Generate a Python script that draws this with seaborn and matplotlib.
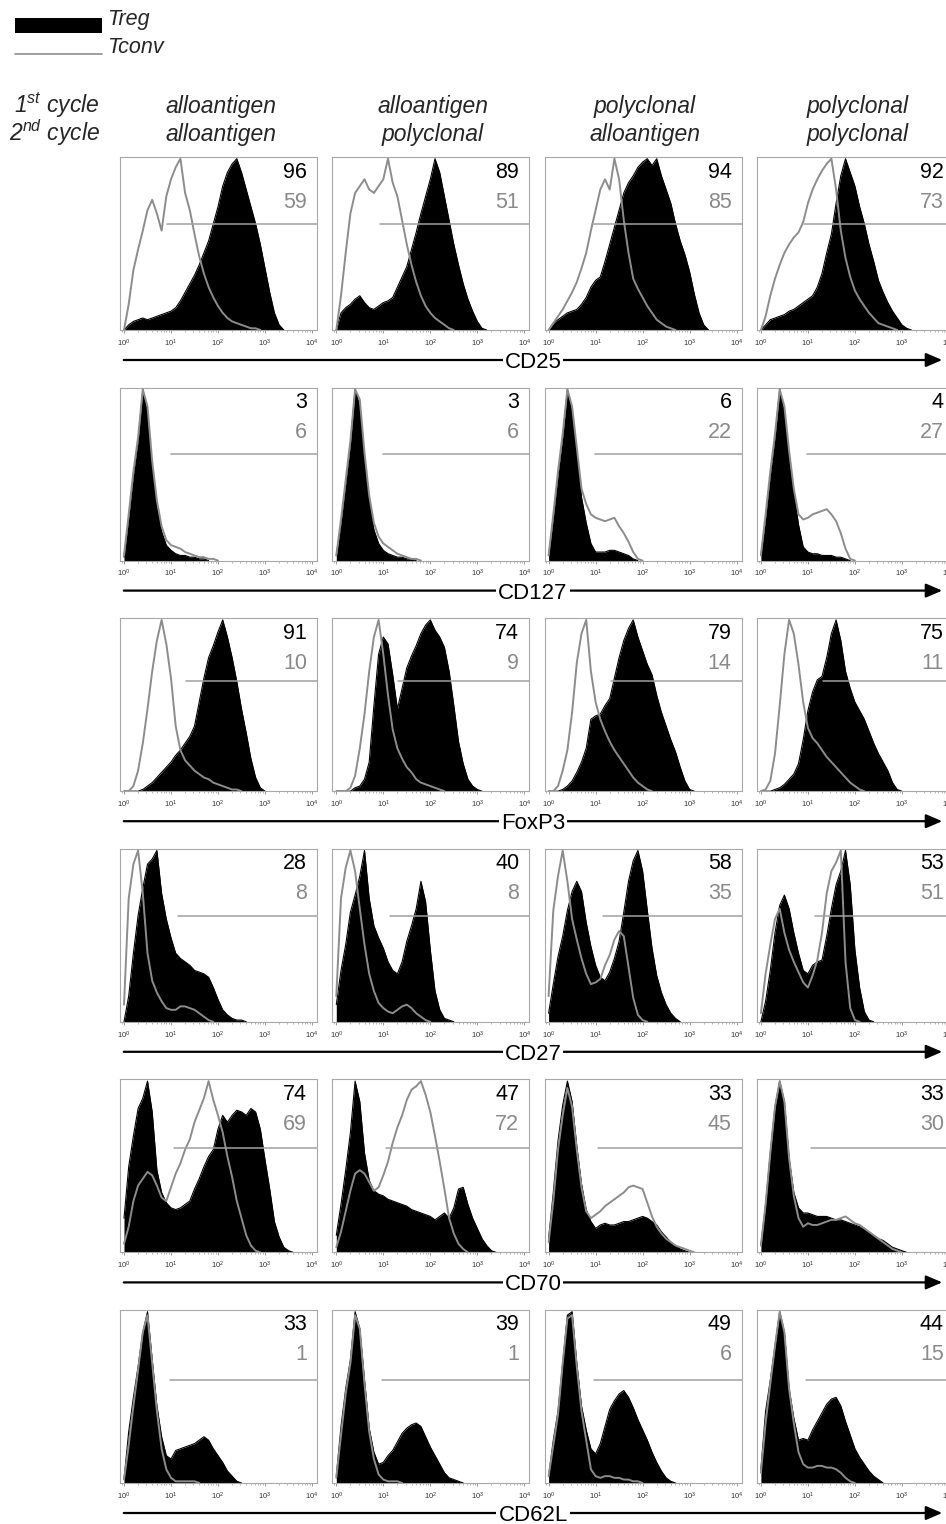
import numpy as np
import pandas as pd
import matplotlib
matplotlib.use("Agg")
import matplotlib.pyplot as plt
import seaborn as sns
from matplotlib.patches import FancyArrowPatch, Rectangle
from matplotlib.lines import Line2D
from matplotlib.ticker import LogLocator

# ---------------- data ----------------
LOG_BINS = [0.0, 0.1, 0.2, 0.3, 0.4, 0.5, 0.6, 0.7, 0.8, 0.9, 1.0, 1.1, 1.2,
            1.3, 1.4, 1.5, 1.6, 1.7, 1.8, 1.9, 2.0, 2.1, 2.2, 2.3, 2.4, 2.5,
            2.6, 2.7, 2.8, 2.9, 3.0, 3.1, 3.2, 3.3, 3.4, 3.5, 3.6]

MARKERS = ["CD25", "CD127", "FoxP3", "CD27", "CD70", "CD62L"]
CYCLE1 = ["alloantigen", "alloantigen", "polyclonal", "polyclonal"]
CYCLE2 = ["alloantigen", "polyclonal", "alloantigen", "polyclonal"]

TREG_PCT = [[96, 89, 94, 92], [3, 3, 6, 4], [91, 74, 79, 75],
            [28, 40, 58, 53], [74, 47, 33, 33], [33, 39, 49, 44]]
TCONV_PCT = [[59, 51, 85, 73], [6, 6, 22, 27], [10, 9, 14, 11],
             [8, 8, 35, 51], [69, 72, 45, 30], [1, 1, 6, 15]]

GATE_START_LOG = [0.92, 0.99, 1.32, 1.15, 1.06, 0.97]
GATE_LEVEL = [62, 62, 64.5, 62, 61, 60]

# histogram heights (% of max) per column, sampled at LOG_BINS
CD25_TREG = [
    [0, 3, 5, 6, 7, 6, 7, 8, 9, 10, 11, 13, 17, 22, 27, 32, 38, 45, 52, 62, 72, 84, 92, 97, 100, 92, 82, 72, 62, 50, 36, 22, 10, 3, 0],
    [0, 10, 13, 15, 18, 20, 16, 13, 12, 14, 16, 17, 19, 25, 31, 37, 47, 57, 68, 78, 88, 100, 92, 78, 64, 50, 38, 27, 18, 11, 5, 1, 0],
    [0, 4, 6, 8, 10, 11, 12, 15, 19, 25, 29, 31, 40, 50, 60, 70, 80, 86, 90, 95, 98, 100, 96, 100, 90, 82, 74, 62, 52, 44, 34, 21, 10, 3, 0],
    [0, 3, 6, 7, 8, 9, 11, 12, 14, 16, 18, 20, 25, 33, 45, 56, 74, 90, 100, 92, 84, 72, 62, 50, 40, 29, 22, 16, 11, 7, 3, 1, 0],
]
CD25_TCONV = [
    [0, 15, 35, 47, 58, 70, 76, 68, 58, 78, 88, 95, 100, 80, 70, 56, 43, 33, 25, 19, 14, 10, 7, 5, 4, 3, 2, 1, 1, 0],
    [0, 20, 45, 68, 80, 84, 88, 82, 80, 84, 88, 100, 86, 78, 64, 50, 38, 28, 20, 14, 10, 7, 5, 3, 1, 0],
    [0, 4, 8, 12, 17, 22, 28, 36, 45, 58, 70, 82, 88, 82, 100, 88, 64, 45, 30, 24, 19, 14, 10, 6, 4, 2, 1, 0],
    [0, 8, 20, 30, 38, 45, 50, 54, 57, 63, 74, 82, 88, 93, 97, 100, 82, 58, 42, 31, 23, 18, 14, 10, 7, 4, 3, 2, 1, 0],
]
CD127_TREG = [
    [2, 25, 50, 70, 100, 86, 55, 32, 17, 9, 6, 4, 3, 3, 2, 2, 1, 1, 0],
    [3, 22, 45, 68, 100, 90, 60, 35, 18, 10, 6, 4, 3, 2, 2, 1, 1, 0],
    [3, 25, 50, 72, 100, 86, 62, 37, 22, 10, 5, 5, 5, 6, 6, 5, 4, 3, 1, 0],
    [3, 25, 50, 72, 100, 86, 62, 40, 21, 8, 5, 4, 4, 3, 3, 3, 2, 2, 1, 0],
]
CD127_TCONV = [
    [3, 27, 52, 72, 100, 90, 58, 35, 20, 12, 9, 8, 7, 5, 4, 3, 2, 2, 1, 1, 0],
    [3, 24, 47, 70, 100, 94, 63, 38, 22, 14, 10, 8, 6, 4, 3, 2, 1, 1, 0],
    [3, 27, 52, 74, 100, 90, 66, 42, 33, 27, 25, 24, 23, 24, 25, 20, 16, 11, 5, 1, 0],
    [3, 27, 52, 74, 100, 90, 64, 42, 27, 24, 25, 27, 28, 29, 30, 27, 23, 16, 7, 1, 0],
]
FOXP3_TREG = [
    [0, 0, 0, 0, 1, 3, 5, 8, 11, 14, 17, 21, 24, 28, 32, 38, 52, 66, 78, 85, 93, 100, 90, 78, 64, 48, 34, 19, 8, 2, 0],
    [0, 0, 0, 0, 2, 3, 7, 17, 50, 80, 90, 86, 68, 48, 60, 72, 79, 85, 92, 97, 100, 94, 90, 84, 70, 50, 29, 16, 7, 3, 1, 0],
    [0, 0, 0, 1, 3, 6, 11, 17, 25, 42, 44, 45, 50, 54, 66, 78, 88, 95, 100, 90, 82, 74, 68, 56, 46, 38, 30, 23, 14, 6, 1, 0],
    [0, 0, 0, 1, 2, 4, 7, 10, 16, 30, 47, 58, 65, 67, 78, 92, 100, 88, 70, 60, 52, 47, 42, 35, 28, 22, 17, 12, 5, 1, 0],
]
FOXP3_TCONV = [
    [0, 0, 3, 12, 28, 48, 70, 88, 100, 86, 66, 38, 24, 18, 15, 12, 10, 8, 7, 5, 4, 3, 2, 1, 1, 0],
    [0, 0, 0, 2, 9, 25, 45, 70, 90, 100, 80, 56, 36, 25, 19, 14, 11, 7, 5, 4, 3, 2, 1, 0],
    [0, 0, 3, 12, 24, 46, 75, 92, 100, 70, 52, 42, 35, 29, 24, 20, 16, 12, 8, 5, 3, 1, 0],
    [0, 1, 6, 22, 50, 80, 100, 92, 74, 52, 37, 31, 28, 24, 20, 17, 14, 11, 8, 5, 3, 1, 0],
]
CD27_TREG = [
    [0, 15, 40, 62, 78, 92, 95, 100, 75, 60, 49, 40, 37, 35, 33, 30, 29, 28, 26, 20, 13, 7, 4, 2, 1, 1, 0],
    [10, 30, 45, 64, 74, 85, 100, 72, 56, 49, 43, 35, 30, 28, 35, 47, 56, 66, 82, 70, 42, 18, 7, 2, 1, 0],
    [5, 22, 38, 50, 65, 76, 82, 76, 58, 44, 33, 26, 24, 29, 37, 47, 64, 82, 94, 100, 88, 65, 43, 27, 17, 10, 5, 2, 0],
    [0, 12, 30, 52, 68, 74, 66, 52, 40, 30, 28, 33, 35, 36, 50, 66, 80, 88, 100, 80, 42, 20, 6, 1, 0],
]
CD27_TCONV = [
    [10, 72, 92, 100, 75, 40, 24, 17, 12, 8, 7, 7, 9, 9, 8, 7, 5, 3, 1, 0],
    [15, 72, 90, 100, 88, 66, 45, 28, 18, 11, 8, 6, 5, 7, 9, 10, 8, 5, 3, 1, 0],
    [15, 65, 85, 100, 82, 60, 48, 37, 28, 22, 23, 25, 33, 39, 48, 53, 50, 32, 14, 4, 1, 0],
    [5, 28, 45, 60, 66, 52, 42, 35, 29, 23, 20, 27, 36, 52, 75, 88, 93, 100, 35, 8, 1, 0],
]
CD70_TREG = [
    [20, 50, 68, 84, 90, 100, 82, 48, 35, 29, 26, 25, 26, 28, 30, 37, 43, 50, 56, 60, 72, 80, 76, 80, 83, 82, 80, 84, 82, 72, 54, 37, 18, 9, 3, 1, 0],
    [10, 28, 48, 70, 100, 88, 58, 42, 36, 34, 33, 31, 30, 29, 28, 27, 25, 24, 23, 22, 21, 19, 21, 23, 20, 26, 37, 38, 28, 20, 14, 8, 4, 1, 0],
    [8, 35, 65, 86, 100, 88, 62, 40, 25, 18, 14, 16, 17, 16, 16, 17, 18, 18, 19, 20, 21, 20, 18, 16, 12, 9, 6, 4, 2, 1, 0],
    [4, 28, 58, 85, 100, 88, 55, 35, 26, 23, 23, 22, 21, 21, 21, 20, 19, 19, 18, 17, 16, 15, 14, 12, 10, 8, 7, 5, 3, 2, 1, 0],
]
CD70_TCONV = [
    [5, 15, 30, 39, 43, 47, 45, 39, 32, 30, 38, 46, 52, 60, 66, 76, 83, 90, 100, 89, 80, 70, 56, 44, 30, 20, 10, 4, 1, 0],
    [3, 12, 24, 36, 46, 48, 46, 41, 36, 38, 45, 53, 64, 73, 80, 89, 95, 97, 100, 92, 82, 68, 53, 37, 20, 11, 5, 2, 0],
    [6, 30, 60, 80, 96, 85, 60, 38, 24, 20, 22, 24, 27, 29, 31, 33, 35, 38, 39, 38, 37, 29, 21, 15, 11, 8, 6, 4, 3, 2, 1, 0],
    [4, 28, 58, 85, 100, 88, 55, 33, 20, 15, 17, 16, 16, 17, 18, 19, 19, 20, 21, 19, 17, 16, 14, 12, 10, 8, 6, 4, 2, 1, 0],
]
CD62L_TREG = [
    [2, 30, 50, 68, 88, 100, 72, 45, 27, 16, 14, 19, 20, 21, 22, 23, 25, 27, 25, 20, 16, 12, 7, 4, 1, 0],
    [4, 33, 55, 72, 100, 90, 60, 32, 18, 11, 12, 16, 19, 24, 29, 32, 34, 35, 33, 27, 21, 16, 11, 6, 3, 2, 1, 0],
    [4, 25, 42, 70, 98, 100, 70, 45, 31, 20, 17, 23, 33, 43, 48, 52, 54, 50, 44, 37, 31, 25, 18, 12, 7, 3, 1, 0],
    [8, 42, 60, 80, 100, 88, 55, 38, 25, 26, 25, 31, 36, 41, 46, 49, 50, 45, 36, 28, 20, 15, 11, 7, 4, 2, 0],
]
CD62L_TCONV = [
    [2, 22, 45, 66, 88, 98, 70, 42, 20, 8, 3, 1, 1, 1, 1, 1, 0],
    [3, 28, 52, 70, 98, 90, 58, 30, 14, 5, 2, 1, 1, 1, 0],
    [4, 22, 40, 70, 96, 98, 68, 42, 25, 8, 4, 3, 4, 4, 3, 3, 2, 2, 1, 1, 0],
    [6, 35, 58, 80, 100, 88, 55, 35, 18, 11, 9, 9, 10, 10, 9, 9, 8, 6, 3, 1, 0],
]

TREG_CURVES = [CD25_TREG, CD127_TREG, FOXP3_TREG, CD27_TREG, CD70_TREG, CD62L_TREG]
TCONV_CURVES = [CD25_TCONV, CD127_TCONV, FOXP3_TCONV, CD27_TCONV, CD70_TCONV, CD62L_TCONV]

# ---------------- style / layout ----------------
sns.set_theme(style="white")
plt.rcParams["font.family"] = ["Liberation Sans", "DejaVu Sans"]
plt.rcParams["mathtext.fontset"] = "custom"
plt.rcParams["mathtext.rm"] = "Liberation Sans"
plt.rcParams["mathtext.it"] = "Liberation Sans:italic"

GRAY_LINE = "#8c8c8c"
GATE_COLOR = "#a0a0a0"
GRAY_TEXT = "#8a8a8a"
FRAME = "#a8a8a8"

W, H = 946, 1524
fig = plt.figure(figsize=(W / 100, H / 100), dpi=100)


def fx(px):
    return px / W


def fy(py):
    return 1 - py / H


PANEL_W, PANEL_H = 197, 173
COL_LEFT = [120, 332.3, 544.6, 756.9]
ROW_TOP = [157, 387.6, 618.2, 848.8, 1079.4, 1310]
XMIN, XMAX = 10 ** -0.085, 10 ** 4.106

for r, marker in enumerate(MARKERS):
    for c in range(4):
        left, top = COL_LEFT[c], ROW_TOP[r]
        ax = fig.add_axes([fx(left), fy(top + PANEL_H), PANEL_W / W, PANEL_H / H])
        treg = TREG_CURVES[r][c]
        tconv = TCONV_CURVES[r][c]
        xt = 10 ** np.array(LOG_BINS[: len(treg)])
        xc = 10 ** np.array(LOG_BINS[: len(tconv)])
        df_t = pd.DataFrame({"fluorescence": xt, "events": treg})
        df_c = pd.DataFrame({"fluorescence": xc, "events": tconv})
        ax.set_xscale("log")
        ax.fill_between(df_t["fluorescence"], 0, df_t["events"], color="black", lw=0, zorder=2)
        sns.lineplot(data=df_t, x="fluorescence", y="events", ax=ax, color="black", lw=0.8, zorder=3)
        sns.lineplot(data=df_c, x="fluorescence", y="events", ax=ax, color=GRAY_LINE, lw=1.4, zorder=4)
        ax.plot([10 ** GATE_START_LOG[r], XMAX], [GATE_LEVEL[r], GATE_LEVEL[r]],
                color=GATE_COLOR, lw=1.1, zorder=5)
        ax.set_xlim(XMIN, XMAX)
        ax.set_ylim(0, 101)
        ax.set_xlabel("")
        ax.set_ylabel("")
        ax.xaxis.set_major_locator(LogLocator(base=10, numticks=10))
        ax.xaxis.set_minor_locator(LogLocator(base=10, subs=np.arange(2, 10), numticks=10))
        ax.tick_params(axis="x", which="major", bottom=True, length=2.2, width=0.6,
                       color="#888888", labelsize=5.5, pad=3.2, labelcolor="#333333")
        ax.tick_params(axis="x", which="minor", bottom=True, length=1.3, width=0.5,
                       color="#999999")
        ax.tick_params(axis="y", left=False, labelleft=False)
        for sp in ax.spines.values():
            sp.set_color(FRAME)
            sp.set_linewidth(0.8)
        ax.text(1 - 10 / PANEL_W, 1 - 15 / PANEL_H, str(TREG_PCT[r][c]), transform=ax.transAxes,
                ha="right", va="center", fontsize=15.5, color="black", zorder=6)
        ax.text(1 - 10 / PANEL_W, 1 - 45 / PANEL_H, str(TCONV_PCT[r][c]), transform=ax.transAxes,
                ha="right", va="center", fontsize=15.5, color=GRAY_TEXT, zorder=6)

    # marker arrow below the row
    ya = ROW_TOP[r] + PANEL_H + 30
    arr = FancyArrowPatch((fx(121), fy(ya)), (fx(945), fy(ya)), transform=fig.transFigure,
                          arrowstyle="-|>,head_length=0.7,head_width=0.3", mutation_scale=14,
                          lw=1.6, color="black", zorder=1)
    fig.add_artist(arr)
    fig.text(fx(533), fy(ya + 8), marker, ha="center", va="baseline", fontsize=16,
             color="black", zorder=5,
             bbox=dict(facecolor="white", edgecolor="none", pad=1.5))

# column headers
for c in range(4):
    cx = COL_LEFT[c] + PANEL_W / 2 + 2
    fig.text(fx(cx), fy(113), CYCLE1[c], ha="center", va="baseline", fontsize=16.5, style="italic")
    fig.text(fx(cx), fy(141), CYCLE2[c], ha="center", va="baseline", fontsize=16.5, style="italic")

fig.text(fx(100), fy(113), r"1$^{st}$ cycle", ha="right", va="baseline", fontsize=16.5, style="italic")
fig.text(fx(100), fy(141), r"2$^{nd}$ cycle", ha="right", va="baseline", fontsize=16.5, style="italic")

# legend
fig.add_artist(Rectangle((fx(15), fy(33)), 87 / W, 15 / H, transform=fig.transFigure,
                         facecolor="black", edgecolor="none"))
fig.add_artist(Line2D([fx(15), fx(102)], [fy(54), fy(54)], transform=fig.transFigure,
                      color=GRAY_LINE, lw=1.2))
fig.text(fx(107), fy(25), "Treg", ha="left", va="baseline", fontsize=15.5, style="italic")
fig.text(fx(107), fy(53), "Tconv", ha="left", va="baseline", fontsize=15.5, style="italic")

fig.savefig("out.png", dpi=100, facecolor="white")
